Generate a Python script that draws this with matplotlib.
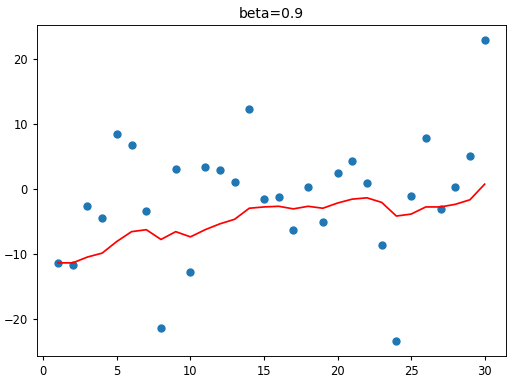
import matplotlib.pyplot as plt

# Исходные точки (x = 1..30)
days = list(range(1, 31))
values = [-11.3, -11.6, -2.6, -4.4, 8.5, 6.8, -3.3, -21.3, 3.2, -12.7,
          3.4, 3.0, 1.1, 12.4, -1.5, -1.2, -6.3, 0.3, -5.0, 2.5,
          4.3, 1.0, -8.6, -23.3, -1.0, 7.9, -3.0, 0.4, 5.2, 23.0]

# Сглаженная кривая
smoothed = [-11.3, -11.3, -10.4, -9.8, -8.0, -6.5, -6.2, -7.7, -6.5, -7.3,
            -6.2, -5.3, -4.6, -2.9, -2.7, -2.6, -3.0, -2.6, -2.9, -2.1,
            -1.5, -1.3, -2.0, -4.1, -3.8, -2.7, -2.7, -2.3, -1.6, 0.8]

scale = 0.83  # картинка уменьшена относительно стандартной
plt.rcParams['font.size'] = 10 * scale
plt.rcParams['xtick.major.size'] = 3.5 * scale
plt.rcParams['ytick.major.size'] = 3.5 * scale
plt.rcParams['axes.linewidth'] = 0.8 * scale

fig = plt.figure(figsize=(5.22, 3.83), dpi=100)
ax = fig.add_axes([0.0703, 0.0705, 0.899, 0.865])
ax.scatter(days, values, s=36 * scale * scale, color='tab:blue')
ax.plot(days, smoothed, color='r', linewidth=1.5 * scale)
ax.set_title('beta=0.9', pad=6 * scale)

fig.savefig('out.png', dpi=100)
